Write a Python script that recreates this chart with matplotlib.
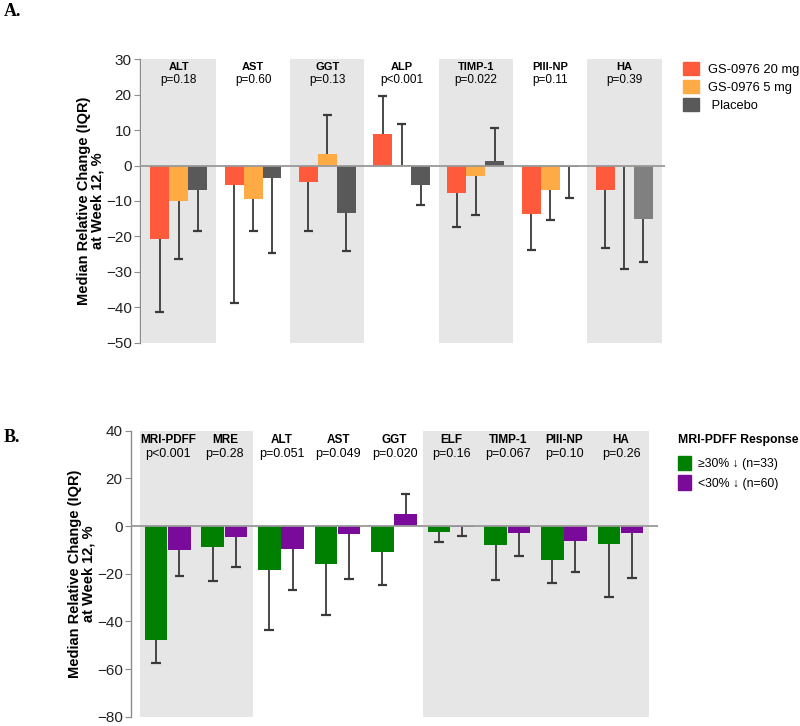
import matplotlib
matplotlib.use("Agg")
import matplotlib.pyplot as plt
from matplotlib.patches import Patch
import numpy as np

plt.rcParams['font.family'] = ['Liberation Sans', 'DejaVu Sans']

# ---------------- Panel A data ----------------
a_markers = ["ALT", "AST", "GGT", "ALP", "TIMP-1", "PIII-NP", "HA"]
a_pvals = ["p=0.18", "p=0.60", "p=0.13", "p<0.001", "p=0.022", "p=0.11", "p=0.39"]
a_series = ["GS-0976 20 mg", "GS-0976 5 mg", " Placebo"]
a_20mg = [-20.6, -5.6, -4.6, 9.0, -7.8, -13.8, -6.9]
a_20mg_iqr = [-41.2, -38.7, -18.6, 19.5, -17.2, -23.8, -23.3]
a_5mg = [-9.9, -9.3, 3.3, 0.2, -2.9, -6.9, -0.5]
a_5mg_iqr = [-26.3, -18.4, 14.4, 11.7, -14.0, -15.5, -29.3]
a_pbo = [-6.8, -3.6, -13.4, -5.6, 1.4, -0.3, -15.2]
a_pbo_iqr = [-18.6, -24.8, -24.2, -11.0, 10.7, -9.1, -27.2]
a_yticks = [30, 20, 10, 0, -10, -20, -30, -40, -50]

# ---------------- Panel B data ----------------
b_markers = ["MRI-PDFF", "MRE", "ALT", "AST", "GGT", "ELF", "TIMP-1", "PIII-NP", "HA"]
b_pvals = ["p<0.001", "p=0.28", "p=0.051", "p=0.049", "p=0.020", "p=0.16", "p=0.067", "p=0.10", "p=0.26"]
b_series = ["\u226530% \u2193 (n=33)", "<30% \u2193 (n=60)"]
b_resp = [-47.7, -8.7, -18.5, -16.1, -11.1, -2.5, -7.9, -14.3, -7.7]
b_resp_iqr = [-57.4, -22.9, -43.6, -37.2, -24.6, -6.9, -22.5, -24.0, -29.6]
b_nonresp = [-10.2, -4.6, -9.8, -3.2, 5.1, -0.4, -2.9, -6.2, -2.8]
b_nonresp_iqr = [-21.1, -17.0, -26.9, -22.2, 13.3, -4.2, -12.5, -19.4, -21.6]
b_yticks = [40, 20, 0, -20, -40, -60, -80]

BAND = "#e6e6e6"
ERR = "#3a3a3a"
AXC = "#8c8c8c"

fig = plt.figure(figsize=(8.0, 7.26), dpi=100)
W, H = 800, 726


def px_axes(left, top, right, bottom):
    return fig.add_axes([left / W, 1 - bottom / H, (right - left) / W, (bottom - top) / H])


def whisker(ax, xs, med, ends, capw):
    for x, m, e in zip(xs, med, ends):
        ax.vlines(x, m, e, color=ERR, lw=1.3, zorder=4)
        ax.hlines(e, x - capw, x + capw, color=ERR, lw=1.6, zorder=4)


def style_axes(ax, yticks, ylim):
    ax.set_ylim(*ylim)
    ax.set_yticks(yticks)
    ax.set_xticks([])
    for s in ["top", "right", "bottom"]:
        ax.spines[s].set_visible(False)
    ax.spines["left"].set_color(AXC)
    ax.spines["left"].set_linewidth(1.0)
    ax.tick_params(axis="y", direction="out", length=4, color=AXC, labelsize=11,
                   labelcolor="#222222", pad=2)
    ax.axhline(0, color="#999999", lw=1.3, zorder=3)
    ax.set_ylabel("Median Relative Change (IQR)\nat Week 12, %", fontsize=10.5,
                  fontweight="bold", linespacing=0.95, labelpad=1)


# ---------------- Panel A ----------------
axA = px_axes(140, 59.3, 665, 342.7)
ngA = len(a_markers)
xa = np.arange(ngA)
axA.set_xlim(-0.523, ngA - 0.453)
for i in range(ngA):
    if i % 2 == 0:
        axA.axvspan(i - 0.5, i + 0.5, color=BAND, lw=0, zorder=0)
bw = 0.255
colsA = ["#ff5a3c", "#ffab45", "#595959"]
pbo_cols = ["#595959"] * (ngA - 1) + ["#808080"]
axA.bar(xa - bw, a_20mg, bw, color=colsA[0], zorder=2)
axA.bar(xa, a_5mg, bw, color=colsA[1], zorder=2)
axA.bar(xa + bw, a_pbo, bw, color=pbo_cols, zorder=2)
whisker(axA, xa - bw, a_20mg, a_20mg_iqr, 0.06)
whisker(axA, xa, a_5mg, a_5mg_iqr, 0.06)
whisker(axA, xa + bw, a_pbo, a_pbo_iqr, 0.06)
style_axes(axA, a_yticks, (-50, 30))
for i, (m, p) in enumerate(zip(a_markers, a_pvals)):
    axA.text(i, 27.9, m, ha="center", va="center", fontsize=8, fontweight="bold")
    axA.text(i, 24.2, p, ha="center", va="center", fontsize=8.5)
handlesA = [Patch(color=c) for c in colsA]
fig.legend(handlesA, a_series, loc="upper left", bbox_to_anchor=(683 / W, 1 - 62 / H),
           frameon=False, fontsize=9.3, handlelength=1.25, handleheight=1.2,
           handletextpad=0.7, labelspacing=0.32, borderpad=0, borderaxespad=0)

# ---------------- Panel B ----------------
axB = px_axes(131, 430.7, 658, 716.7)
ngB = len(b_markers)
xb = np.arange(ngB)
axB.set_xlim(-0.659, ngB - 0.346)
axB.axvspan(-0.5, 1.5, color=BAND, lw=0, zorder=0)
axB.axvspan(4.5, 8.5, color=BAND, lw=0, zorder=0)
bwB = 0.4
colsB = ["#008000", "#7a0a9a"]
axB.bar(xb - 0.215, b_resp, bwB, color=colsB[0], zorder=2)
axB.bar(xb + 0.195, b_nonresp, bwB, color=colsB[1], zorder=2)
whisker(axB, xb - 0.215, b_resp, b_resp_iqr, 0.085)
whisker(axB, xb + 0.195, b_nonresp, b_nonresp_iqr, 0.085)
style_axes(axB, b_yticks, (-80, 40))
for i, (m, p) in enumerate(zip(b_markers, b_pvals)):
    axB.text(i, 36.2, m, ha="center", va="center", fontsize=8.5, fontweight="bold")
    axB.text(i, 30.3, p, ha="center", va="center", fontsize=9)
handlesB = [Patch(color=c) for c in colsB]
legB = fig.legend(handlesB, b_series, loc="upper left", bbox_to_anchor=(678 / W, 1 - 434 / H),
                  frameon=False, fontsize=8.8, handlelength=1.1, handleheight=1.45,
                  handletextpad=0.55, labelspacing=0.42, borderpad=0, borderaxespad=0,
                  title="MRI-PDFF Response", alignment="left",
                  title_fontproperties={"weight": "bold", "size": 8.8})
legB._legend_box.sep = 7

# Panel letters
fig.text(4 / W, 1 - 12 / H, "A.", fontsize=13, fontweight="bold",
         family="Liberation Serif", va="center", ha="left")
fig.text(4 / W, 1 - 437 / H, "B.", fontsize=13, fontweight="bold",
         family="Liberation Serif", va="center", ha="left")

fig.savefig("out.png", dpi=100)
